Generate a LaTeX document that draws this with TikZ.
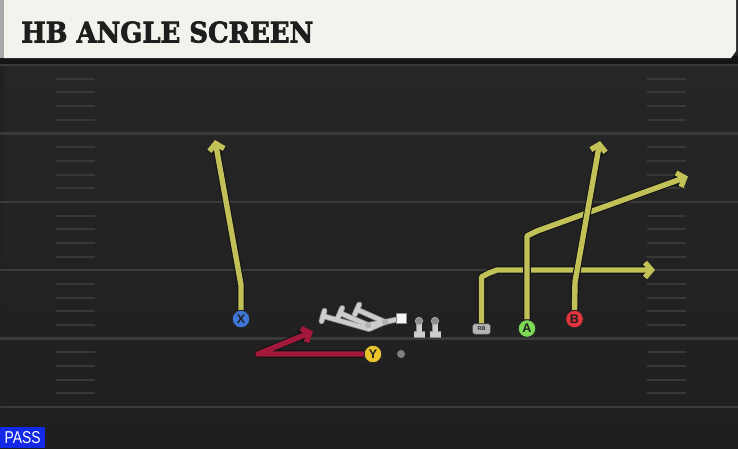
\documentclass[tikz,border=0pt]{standalone}
\usepackage{fontspec}
\setmainfont{Liberation Sans}
\newfontfamily\titlefont[BoldFeatures={FakeBold=2.5}]{DejaVu Serif}
\usetikzlibrary{arrows.meta,calc}
\definecolor{fieldbg}{HTML}{262626}
\definecolor{fieldbot}{HTML}{1F1F1F}
\definecolor{yardline}{HTML}{3A3A3A}
\definecolor{hashc}{HTML}{383838}
\definecolor{cream}{HTML}{F4F2EC}
\definecolor{stripgray}{HTML}{A8A8A8}
\definecolor{titleink}{HTML}{1E1E1E}
\definecolor{routeyel}{HTML}{C2C158}
\definecolor{routered}{HTML}{A3193B}
\definecolor{xblue}{HTML}{3F76D8}
\definecolor{yyel}{HTML}{E9C52B}
\definecolor{agreen}{HTML}{7ED957}
\definecolor{bred}{HTML}{E6343F}
\definecolor{rbgray}{HTML}{B4B4B4}
\definecolor{blockgray}{HTML}{CDCDCD}
\definecolor{passblue}{HTML}{1428E8}
\pgfdeclarelayer{field}
\pgfdeclarelayer{routes}
\pgfsetlayers{field,routes,main}
\tikzset{
  player/.style={circle, minimum size=17.5pt, inner sep=0pt, draw=black!85, line width=0.8pt,
    text=black!88, font=\bfseries\fontsize{12.5}{12.5}\selectfont},
  rbbox/.style={rounded corners=2.5pt, fill=rbgray, draw=black!70, line width=0.7pt,
    minimum width=18pt, minimum height=10.5pt, inner sep=0pt, text=black!85,
    font=\bfseries\fontsize{5.5}{5.5}\selectfont},
  routeout/.style={draw=black!92, line width=7.6pt, line join=round,
    -{Straight Barb[length=6.5pt,width=15pt]}},
  routein/.style={draw=#1, line width=5.4pt, line join=round,
    -{Straight Barb[length=6.5pt,width=15pt]}},
  blockout/.style={draw=black!45, line width=5.8pt, line join=round, line cap=round},
  blockin/.style={draw=blockgray, line width=4.2pt, line join=round, line cap=round},
  lineman/.pic={
    \draw[black!45, line width=6.5pt] (-5.5,6.5) -- (5.5,6.5);
    \draw[black!45, line width=6.5pt] (0,-6) -- (0,6.5);
    \draw[blockgray, line width=5pt] (-5.5,6.5) -- (5.5,6.5);
    \draw[blockgray, line width=5pt] (0,-6) -- (0,6.5);
    \fill[black!45, draw=black!30, line width=0.6pt] (0,-7) circle (3.8pt);
  }
}
\newcommand\drawroute[2]{\draw[routeout] #2; \draw[routein=#1] #2;}
\begin{document}
\begin{tikzpicture}[x=1pt,y=-1pt]
\useasboundingbox (0,0) rectangle (738,448);
\begin{pgfonlayer}{field}
  \fill[fieldbg] (0,0) rectangle (738,448);
  \shade[top color=fieldbg, bottom color=fieldbot] (0,64) rectangle (738,448);
  \fill[black!12!fieldbg] (0,64) rectangle (4,448);
  % yard lines
  \foreach \L in {65,133.4,201.8,270.2,338.6,407} {
    \draw[yardline, line width=2.4pt] (0,\L) -- (738,\L);
  }
  % hash marks
  \foreach \L in {65,133.4,201.8,270.2,338.6} {
    \foreach \k in {1,2,3,4} {
      \draw[hashc, line width=2pt] (56,\L+13.7*\k) -- (95,\L+13.7*\k);
      \draw[hashc, line width=2pt] (647,\L+13.7*\k) -- (686,\L+13.7*\k);
    }
  }
  % title bar
  \fill[black!92] (0,56) rectangle (738,64);
  \fill[cream] (4,0) -- (736,0) -- (736,51) -- (731,58) -- (4,58) -- cycle;
  \fill[stripgray] (0,0) rectangle (4,58);
\end{pgfonlayer}
\node[anchor=south west, inner sep=0pt, text=titleink] (title) at (21,43)
  {\resizebox{292pt}{21pt}{\titlefont\bfseries HB ANGLE SCREEN}};
% players
\node[player, fill=xblue] (X) at (241,319) {X};
\node[player, fill=yyel] (Y) at (373,354) {Y};
\node[player, fill=agreen] (A) at (527,328.5) {A};
\node[player, fill=bred] (B) at (574.5,319) {B};
\node[rbbox] (RB) at (481.5,329) {RB};
\node[fill=black!50, circle, minimum size=8pt, inner sep=0pt] (ball) at (401,354) {};
\node[fill=white!96!black, draw=black!45, line width=0.6pt, minimum size=9.5pt, inner sep=0pt] (C) at (401.5,318.5) {};
\pic at (419,328) {lineman};
\pic at (435,328) {lineman};
% route coordinates
\coordinate (xbend) at (241,285);
\coordinate (xend) at (215,140);
\coordinate (ybend) at (258,354);
\coordinate (yend) at (313,331.5);
\coordinate (rb1) at (481.5,277);
\coordinate (rb2) at (489,273);
\coordinate (rb3) at (497,270);
\coordinate (rbend) at (655,270);
\coordinate (a1) at (527,236);
\coordinate (a2) at (537,231);
\coordinate (aend) at (688,176.5);
\coordinate (b1) at (575,282);
\coordinate (bend) at (600,141);
% blocking lines
\coordinate (t1) at (323,316);
\coordinate (t2) at (340,313);
\coordinate (t3) at (357,309.5);
\coordinate (k0) at (369,329);
\coordinate (k1) at (368,325);
\coordinate (k2) at (385,322);
\begin{pgfonlayer}{routes}
  \drawroute{routeyel}{(X.north) -- (xbend) -- (xend)}
  \drawroute{routered}{(Y.west) -- (ybend) -- (yend)}
  \drawroute{routeyel}{(RB.north) -- (rb1) -- (rb2) -- (rb3) -- (rbend)}
  \drawroute{routeyel}{(A.north) -- (a1) -- (a2) -- (aend)}
  \drawroute{routeyel}{(B.north) -- (b1) -- (bend)}
  \foreach \p in {blockout, blockin} {
    \draw[\p] (t1) -- (k0) -- (k2);
    \draw[\p] (t2) -- (k1) -- (k2);
    \draw[\p] (t3) -- (k2) -- (C);
    \draw[\p] ($(t1)!5.5pt!90:(k0)$) -- ($(t1)!5.5pt!-90:(k0)$);
    \draw[\p] ($(t2)!5.5pt!90:(k1)$) -- ($(t2)!5.5pt!-90:(k1)$);
    \draw[\p] ($(t3)!5.5pt!90:(k2)$) -- ($(t3)!5.5pt!-90:(k2)$);
  }
  \fill[black!30] (k1) circle (3.2pt);
  \fill[black!30] (k2) circle (3.2pt);
\end{pgfonlayer}
% pass label
\node[anchor=south west, fill=passblue, minimum width=45pt, minimum height=21pt, inner sep=0pt] (passbox) at (0,448) {};
\node[text=white, inner sep=0pt] (pass) at (passbox.center)
  {\resizebox{36pt}{12pt}{PASS}};
\end{tikzpicture}
\end{document}
